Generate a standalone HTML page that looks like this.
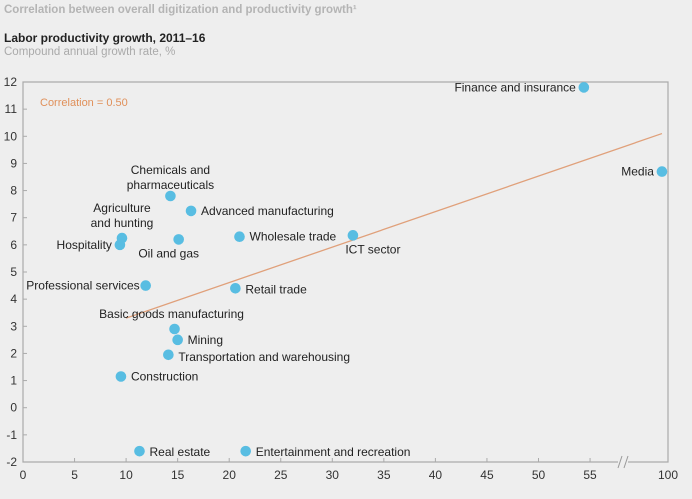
<!DOCTYPE html>
<html><head><meta charset="utf-8"><style>
body{margin:0;background:#eeeeee;font-family:"Liberation Sans",sans-serif;}
svg{display:block}
</style></head><body>
<svg width="692" height="499" xmlns="http://www.w3.org/2000/svg">
<rect width="692" height="499" fill="#eeeeee"/>
<text x="4" y="13" font-size="11.5" font-weight="bold" fill="#b4b4b4">Correlation between overall digitization and productivity growth¹</text>
<text x="4" y="42" font-size="12" font-weight="bold" fill="#222">Labor productivity growth, 2011–16</text>
<text x="4" y="55" font-size="11.5" fill="#aaa">Compound annual growth rate, %</text>
<g id="plot"></g>
</svg>
<script>
const xTicks=[0,5,10,15,20,25,30,35,40,45,50,55,100];
const yTicks=[12,11,10,9,8,7,6,5,4,3,2,1,0,-1,-2];
const names=["Finance and insurance","Media","Chemicals and|pharmaceuticals","Advanced manufacturing","Agriculture|and hunting","Hospitality","Oil and gas","Wholesale trade","ICT sector","Professional services","Retail trade","Basic goods manufacturing","Mining","Transportation and warehousing","Construction","Real estate","Entertainment and recreation"];
const xVals=[54.4,94.6,14.3,16.3,9.6,9.4,15.1,21,32,11.9,20.6,14.7,15,14.1,9.5,11.3,21.6];
const yVals=[11.8,8.7,7.8,7.25,6.25,6.0,6.2,6.3,6.35,4.5,4.4,2.9,2.5,1.95,1.15,-1.6,-1.6];
const trendX=[10,94.6];
const trendY=[3.3,10.1];
const ns="http://www.w3.org/2000/svg";
const L=23,R=668,T=82,B=462;
function sx(x){return x<=58?L+x*10.31:621+(x-58)*(R-621)/42;}
function sy(y){return B-(y+2)*(B-T)/14;}
const g=document.getElementById('plot');
function el(t,a,txt){const e=document.createElementNS(ns,t);for(const k in a)e.setAttribute(k,a[k]);if(txt!==undefined)e.textContent=txt;g.appendChild(e);return e;}
let f=el('path',{d:`M${L} ${T}H${R}V${B}H${L}Z`,fill:'none',stroke:'#aaa','stroke-width':1.2});


let brk=el('rect',{x:618,y:B-3,width:10,height:6,fill:'#eeeeee'});


[618,624].forEach(x=>{let l=el('line',{x1:x,y1:B+6,x2:x+4,y2:B-6,stroke:'#999','stroke-width':1});});
yTicks.forEach(v=>{const y=sy(v);
let t=el('line',{x1:L,y1:y,x2:L+4,y2:y,stroke:'#aaa'});
let tx=el('text',{x:L-6,y:y+4,'font-size':12,fill:'#333','text-anchor':'end'},v);});
xTicks.forEach(v=>{const x=sx(v);
let t=el('line',{x1:x,y1:B,x2:x,y2:B-4,stroke:'#aaa'});
let tx=el('text',{x:x,y:B+17,'font-size':12,fill:'#333','text-anchor':'middle'},v);});
let tl=el('line',{x1:sx(trendX[0]),y1:sy(trendY[0]),x2:sx(trendX[1]),y2:sy(trendY[1]),stroke:'#e0a07a','stroke-width':1.3});


let ct=el('text',{x:40,y:106,'font-size':11,fill:'#e0905a'},'Correlation = 0.50');


const lab=[[-8,4,'end'],[-8,4,'end'],[0,-22,'middle'],[10,4,'start'],[0,-26,'middle'],[-8,4,'end'],[-10,18,'middle'],[10,4,'start'],[20,18,'middle'],[-6,4,'end'],[10,5,'start'],[0,-11,'middle'],[10,4,'start'],[10,6,'start'],[10,4,'start'],[10,5,'start'],[10,5,'start']];
xVals.forEach((xv,i)=>{const cx=sx(xv),cy=sy(yVals[i]);
let c=el('circle',{cx:cx,cy:cy,r:5.3,fill:'#58bde2'});


const [dx,dy,an]=lab[i];const parts=names[i].split('|');
let ax=cx+dx; if(i===11) ax=cx-3;
parts.forEach((p,j)=>{let t=el('text',{x:ax,y:cy+dy+j*15,'font-size':12,fill:'#222','text-anchor':an},p);

});
});
</script>
</body></html>
